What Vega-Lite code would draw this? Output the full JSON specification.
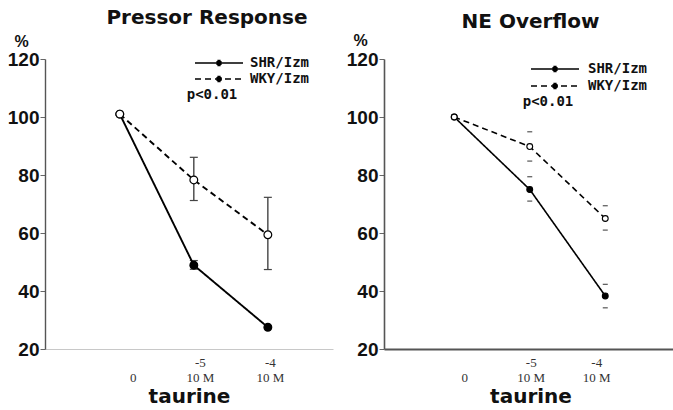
{
  "$schema": "https://vega.github.io/schema/vega-lite/v6.json",
  "padding": {"left": 7, "top": 8, "right": 0, "bottom": 0},
  "spacing": 13,
  "config": {
    "view": {"stroke": null},
    "axis": {"grid": false},
    "font": "Liberation Sans"
  },
  "datasets": {
    "pressor": [
      {"group": "SHR/Izm", "dose": 0, "value": 101},
      {"group": "SHR/Izm", "dose": 1, "value": 48.9, "lo": 47.5, "hi": 50.5},
      {"group": "SHR/Izm", "dose": 2, "value": 27.5},
      {"group": "WKY/Izm", "dose": 0, "value": 101},
      {"group": "WKY/Izm", "dose": 1, "value": 78.3, "lo": 71.2, "hi": 86.1},
      {"group": "WKY/Izm", "dose": 2, "value": 59.4, "lo": 47.4, "hi": 72.3}
    ],
    "ne": [
      {"group": "SHR/Izm", "dose": 0, "value": 100},
      {"group": "SHR/Izm", "dose": 1, "value": 75, "lo": 71, "hi": 79.4},
      {"group": "SHR/Izm", "dose": 2, "value": 38.3, "lo": 34.2, "hi": 42.3},
      {"group": "WKY/Izm", "dose": 0, "value": 100},
      {"group": "WKY/Izm", "dose": 1, "value": 89.8, "lo": 84.8, "hi": 94.9},
      {"group": "WKY/Izm", "dose": 2, "value": 65, "lo": 61, "hi": 69.4}
    ]
  },
  "resolve": {
    "scale": {"x": "independent", "y": "independent", "strokeDash": "independent", "fill": "independent"},
    "legend": {"strokeDash": "independent"}
  },
  "hconcat": [
    {
      "width": 288,
      "height": 290,
      "title": {"text": "Pressor Response", "font": "DejaVu Sans", "fontSize": 20, "fontWeight": "bold", "color": "#111", "dx": 18, "dy": -2, "offset": 3},
      "data": {"name": "pressor"},
      "encoding": {
        "x": {
          "field": "dose", "type": "quantitative",
          "scale": {"domain": [-1.01, 2.88], "nice": false, "zero": false},
          "axis": {
            "values": [0, 1, 2],
            "labelExpr": "datum.value == 0 ? ['', '0'] : datum.value == 1 ? ['-5', '10 M'] : ['-4', '10 M']",
            "labelFont": "Liberation Serif", "labelFontSize": 13, "labelColor": "#333", "labelLineHeight": 15,
            "labelPadding": 7,
            "labelOffset": {"condition": [{"test": "datum.value == 0", "value": 13}, {"test": "datum.value == 1", "value": 6}], "value": 2},
            "ticks": false,
            "domainColor": "#c8c8c8", "domainWidth": 1,
            "title": "taurine", "titleFont": "DejaVu Sans", "titleFontSize": 20, "titleFontWeight": "bold", "titleColor": "#111",
            "titleDx": 13, "titlePadding": 2
          }
        }
      },
      "layer": [
        {
          "transform": [{"filter": "isValid(datum.lo)"}],
          "mark": {"type": "rule", "color": "#444", "strokeWidth": 1.4},
          "encoding": {
            "y": {"field": "lo", "type": "quantitative"},
            "y2": {"field": "hi"}
          }
        },
        {
          "transform": [{"filter": "isValid(datum.lo)"}],
          "mark": {"type": "point", "shape": "M-1,0H1", "size": 64, "filled": false, "stroke": "#444", "strokeWidth": 1.2, "opacity": 1},
          "encoding": {"y": {"field": "lo", "type": "quantitative"}}
        },
        {
          "transform": [{"filter": "isValid(datum.hi)"}],
          "mark": {"type": "point", "shape": "M-1,0H1", "size": 64, "filled": false, "stroke": "#444", "strokeWidth": 1.2, "opacity": 1},
          "encoding": {"y": {"field": "hi", "type": "quantitative"}}
        },
        {
          "mark": {"type": "line", "color": "black", "strokeWidth": 1.9},
          "encoding": {
            "y": {
              "field": "value", "type": "quantitative",
              "scale": {"domain": [20, 120], "nice": false, "zero": false},
              "axis": {
                "values": [20, 30, 40, 50, 60, 70, 80, 90, 100, 110, 120],
                "labelExpr": "datum.value % 20 == 0 ? datum.label : ''",
                "labelFont": "Liberation Sans", "labelFontSize": 19, "labelFontWeight": "bold", "labelColor": "#111",
                "labelPadding": 1,
                "tickSize": {"condition": {"test": "datum.value % 20 == 0", "value": 5}, "value": 3},
                "tickColor": "#666",
                "domainColor": "#555", "domainWidth": 1.4,
                "title": "%", "titleAngle": 0, "titleX": -24, "titleY": -18, "titleAlign": "center", "titleBaseline": "middle",
                "titleFont": "Liberation Sans", "titleFontSize": 16, "titleFontWeight": "bold", "titleColor": "#111"
              }
            },
            "strokeDash": {
              "field": "group", "type": "nominal",
              "scale": {"domain": ["SHR/Izm", "WKY/Izm"], "range": [[1, 0], [6, 4]]},
              "legend": {
                "orient": "none", "legendX": 142, "legendY": -3,
                "title": "p<0.01", "titleOrient": "bottom", "titleAnchor": "start", "titleAlign": "center",
                "titleFont": "DejaVu Sans Mono", "titleFontSize": 14, "titleFontWeight": "bold", "titleColor": "#111", "titlePadding": 2,
                "symbolType": "M-6,0H6M-0.4,-0.6H0.4M-0.65,-0.3H0.65M-0.75,0H0.75M-0.65,0.3H0.65M-0.4,0.6H0.4",
                "symbolSize": 64, "symbolStrokeWidth": 1.6, "symbolStrokeColor": "black", "symbolFillColor": "black",
                "labelFont": "DejaVu Sans Mono", "labelFontSize": 14, "labelFontWeight": "bold", "labelColor": "#111",
                "labelOffset": 24, "rowPadding": 2, "padding": 0,
                "encode": {"symbols": {"update": {"stroke": {"value": "black"}, "strokeWidth": {"value": 1.6}}}}
              }
            }
          }
        },
        {
          "mark": {"type": "point", "filled": true, "stroke": "black", "strokeWidth": 1.2, "size": 60, "opacity": 1},
          "encoding": {
            "y": {"field": "value", "type": "quantitative"},
            "fill": {"field": "group", "type": "nominal", "scale": {"domain": ["SHR/Izm", "WKY/Izm"], "range": ["black", "white"]}, "legend": null}
          }
        }
      ]
    },
    {
      "width": 293,
      "height": 290,
      "title": {"text": "NE Overflow", "font": "DejaVu Sans", "fontSize": 20, "fontWeight": "bold", "color": "#111", "dx": 0, "dy": 3, "offset": 3},
      "data": {"name": "ne"},
      "encoding": {
        "x": {
          "field": "dose", "type": "quantitative",
          "scale": {"domain": [-0.93, 2.95], "nice": false, "zero": false},
          "axis": {
            "values": [0, 1, 2],
            "labelExpr": "datum.value == 0 ? ['', '0'] : datum.value == 1 ? ['-5', '10 M'] : ['-4', '10 M']",
            "labelFont": "Liberation Serif", "labelFontSize": 13, "labelColor": "#333", "labelLineHeight": 15,
            "labelPadding": 7,
            "labelOffset": {"condition": [{"test": "datum.value == 0", "value": 10}, {"test": "datum.value == 1", "value": 1}], "value": -9},
            "ticks": false,
            "domainColor": "#555", "domainWidth": 2,
            "title": "taurine", "titleFont": "DejaVu Sans", "titleFontSize": 20, "titleFontWeight": "bold", "titleColor": "#111",
            "titleDx": 9, "titlePadding": 2
          }
        }
      },
      "layer": [
        {
          "transform": [{"filter": "isValid(datum.lo)"}],
          "mark": {"type": "point", "shape": "M-1,0H1", "size": 25, "filled": false, "stroke": "#555", "strokeWidth": 1.2, "opacity": 1},
          "encoding": {"y": {"field": "lo", "type": "quantitative"}}
        },
        {
          "transform": [{"filter": "isValid(datum.hi)"}],
          "mark": {"type": "point", "shape": "M-1,0H1", "size": 25, "filled": false, "stroke": "#555", "strokeWidth": 1.2, "opacity": 1},
          "encoding": {"y": {"field": "hi", "type": "quantitative"}}
        },
        {
          "mark": {"type": "line", "color": "black", "strokeWidth": 1.6},
          "encoding": {
            "y": {
              "field": "value", "type": "quantitative",
              "scale": {"domain": [20, 120], "nice": false, "zero": false},
              "axis": {
                "values": [20, 30, 40, 50, 60, 70, 80, 90, 100, 110, 120],
                "labelExpr": "datum.value % 20 == 0 ? datum.label : ''",
                "labelFont": "Liberation Sans", "labelFontSize": 19, "labelFontWeight": "bold", "labelColor": "#111",
                "labelPadding": 1,
                "tickSize": {"condition": {"test": "datum.value % 20 == 0", "value": 5}, "value": 3},
                "tickColor": "#666",
                "domainColor": "#555", "domainWidth": 1.6,
                "title": "%", "titleAngle": 0, "titleX": -24, "titleY": -19, "titleAlign": "center", "titleBaseline": "middle",
                "titleFont": "Liberation Sans", "titleFontSize": 16, "titleFontWeight": "bold", "titleColor": "#111"
              }
            },
            "strokeDash": {
              "field": "group", "type": "nominal",
              "scale": {"domain": ["SHR/Izm", "WKY/Izm"], "range": [[1, 0], [6, 4]]},
              "legend": {
                "orient": "none", "legendX": 139, "legendY": 3,
                "title": "p<0.01", "titleOrient": "bottom", "titleAnchor": "start", "titleAlign": "center",
                "titleFont": "DejaVu Sans Mono", "titleFontSize": 14, "titleFontWeight": "bold", "titleColor": "#111", "titlePadding": 2,
                "symbolType": "M-6,0H6M-0.4,-0.6H0.4M-0.65,-0.3H0.65M-0.75,0H0.75M-0.65,0.3H0.65M-0.4,0.6H0.4",
                "symbolSize": 64, "symbolStrokeWidth": 1.6, "symbolStrokeColor": "black", "symbolFillColor": "black",
                "labelFont": "DejaVu Sans Mono", "labelFontSize": 14, "labelFontWeight": "bold", "labelColor": "#111",
                "labelOffset": 26, "rowPadding": 3, "padding": 0,
                "encode": {"symbols": {"update": {"stroke": {"value": "black"}, "strokeWidth": {"value": 1.6}}}}
              }
            }
          }
        },
        {
          "mark": {"type": "point", "filled": true, "stroke": "black", "strokeWidth": 1.1, "size": 34, "opacity": 1},
          "encoding": {
            "y": {"field": "value", "type": "quantitative"},
            "fill": {"field": "group", "type": "nominal", "scale": {"domain": ["SHR/Izm", "WKY/Izm"], "range": ["black", "white"]}, "legend": null}
          }
        }
      ]
    }
  ]
}
